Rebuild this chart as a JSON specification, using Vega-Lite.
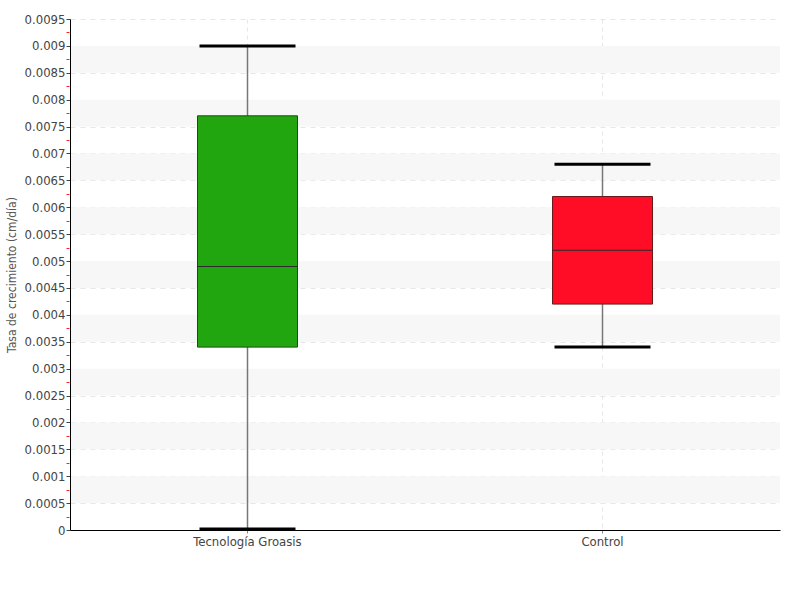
{
  "$schema": "https://vega.github.io/schema/vega-lite/v6.json",
  "width": 710,
  "height": 511,
  "autosize": {"type": "none"},
  "padding": {"left": 70, "top": 19, "right": 20, "bottom": 70},
  "background": "white",
  "config": {
    "font": "DejaVu Sans Condensed, DejaVu Sans",
    "view": {"stroke": null}
  },
  "datasets": {
    "stats": [
      {"grupo": "Tecnología Groasis", "min": 0.00002, "q1": 0.0034, "mediana": 0.0049, "q3": 0.0077, "max": 0.009},
      {"grupo": "Control", "min": 0.0034, "q1": 0.0042, "mediana": 0.0052, "q3": 0.0062, "max": 0.0068}
    ],
    "bandas": [
      {"desde": 0.0005, "hasta": 0.001},
      {"desde": 0.0015, "hasta": 0.002},
      {"desde": 0.0025, "hasta": 0.003},
      {"desde": 0.0035, "hasta": 0.004},
      {"desde": 0.0045, "hasta": 0.005},
      {"desde": 0.0055, "hasta": 0.006},
      {"desde": 0.0065, "hasta": 0.007},
      {"desde": 0.0075, "hasta": 0.008},
      {"desde": 0.0085, "hasta": 0.009}
    ]
  },
  "resolve": {"axis": {"y": "independent", "x": "independent"}},
  "layer": [
    {
      "data": {"name": "bandas"},
      "mark": {"type": "rect", "color": "#f7f7f7"},
      "encoding": {
        "y": {"field": "desde", "type": "quantitative", "scale": {"domain": [0, 0.0095], "nice": false},
          "axis": {
            "orient": "left", "zindex": 0,
            "values": [0, 0.0005, 0.001, 0.0015, 0.002, 0.0025, 0.003, 0.0035, 0.004, 0.0045, 0.005, 0.0055, 0.006, 0.0065, 0.007, 0.0075, 0.008, 0.0085, 0.009, 0.0095],
            "labels": false, "ticks": false, "domain": false, "title": null,
            "grid": true, "gridDash": [5, 5], "gridColor": "#e6e6e6"
          }
        },
        "y2": {"field": "hasta"}
      }
    },
    {
      "data": {"name": "stats"},
      "mark": {"type": "rule", "color": "#777777", "strokeWidth": 1.5},
      "encoding": {
        "x": {"field": "grupo", "type": "nominal", "sort": null, "axis": null},
        "y": {"field": "min", "type": "quantitative", "scale": {"domain": [0, 0.0095], "nice": false},
          "axis": {
            "orient": "left", "zindex": 1,
            "values": [0.00025, 0.00075, 0.00125, 0.00175, 0.00225, 0.00275, 0.00325, 0.00375, 0.00425, 0.00475, 0.00525, 0.00575, 0.00625, 0.00675, 0.00725, 0.00775, 0.00825, 0.00875, 0.00925],
            "labels": false, "domain": false, "grid": false, "title": null,
            "tickColor": "#ff2020", "tickSize": 3, "tickWidth": 1, "offset": 1
          }
        },
        "y2": {"field": "max"}
      }
    },
    {
      "data": {"name": "stats"},
      "mark": {"type": "bar", "size": 100, "strokeWidth": 1},
      "encoding": {
        "x": {"field": "grupo", "type": "nominal", "sort": null, "title": null,
          "axis": {
            "labelAngle": 0, "labelFontSize": 13, "labelColor": "#444444", "labelPadding": 2,
            "domainColor": "#000000", "domainWidth": 1,
            "tickColor": "#888888", "tickSize": 3,
            "grid": true, "gridDash": [4, 4], "gridColor": "#e6e6e6"
          }
        },
        "y": {"field": "q1", "type": "quantitative", "scale": {"domain": [0, 0.0095], "nice": false},
          "title": "Tasa de crecimiento (cm/día)",
          "axis": {
            "orient": "left", "zindex": 1,
            "values": [0, 0.0005, 0.001, 0.0015, 0.002, 0.0025, 0.003, 0.0035, 0.004, 0.0045, 0.005, 0.0055, 0.006, 0.0065, 0.007, 0.0075, 0.008, 0.0085, 0.009, 0.0095],
            "labelExpr": "'' + datum.value",
            "labelFontSize": 13, "labelColor": "#444444", "labelPadding": 1,
            "domainColor": "#000000", "tickColor": "#444444", "tickSize": 4,
            "grid": false,
            "titleFontSize": 12, "titleColor": "#555555", "titleFontWeight": "normal", "titlePadding": 6
          }
        },
        "y2": {"field": "q3"},
        "fill": {"field": "grupo", "type": "nominal", "legend": null,
          "scale": {"domain": ["Tecnología Groasis", "Control"], "range": ["#22a60f", "#ff0d26"]}},
        "stroke": {"field": "grupo", "type": "nominal", "legend": null,
          "scale": {"domain": ["Tecnología Groasis", "Control"], "range": ["#1a4d10", "#6b1a1a"]}}
      }
    },
    {
      "data": {"name": "stats"},
      "mark": {"type": "tick", "size": 100, "thickness": 1, "color": "#2a2a2a", "opacity": 1},
      "encoding": {
        "x": {"field": "grupo", "type": "nominal", "sort": null, "axis": null},
        "y": {"field": "mediana", "type": "quantitative", "scale": {"domain": [0, 0.0095], "nice": false}, "axis": null}
      }
    },
    {
      "data": {"name": "stats"},
      "mark": {"type": "tick", "size": 96, "thickness": 3, "color": "#000000", "opacity": 1},
      "encoding": {
        "x": {"field": "grupo", "type": "nominal", "sort": null, "axis": null},
        "y": {"field": "max", "type": "quantitative", "scale": {"domain": [0, 0.0095], "nice": false}, "axis": null}
      }
    },
    {
      "data": {"name": "stats"},
      "mark": {"type": "tick", "size": 96, "thickness": 3, "color": "#000000", "opacity": 1},
      "encoding": {
        "x": {"field": "grupo", "type": "nominal", "sort": null, "axis": null},
        "y": {"field": "min", "type": "quantitative", "scale": {"domain": [0, 0.0095], "nice": false}, "axis": null}
      }
    }
  ]
}
